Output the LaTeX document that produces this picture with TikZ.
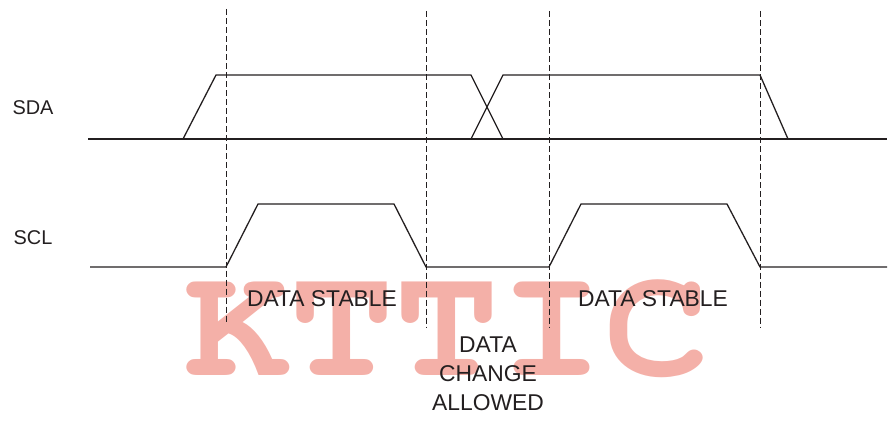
\documentclass[tikz,border=0pt]{standalone}
\usepackage{fontspec}
\setmainfont{Liberation Sans}
\definecolor{ink}{RGB}{35,31,32}
\definecolor{stamp}{RGB}{244,176,168}
\newcommand\markfont{\fontencoding{T1}\fontfamily{pcr}\fontseries{b}\selectfont}
\tikzset{
  wave/.style={draw=ink,line width=1.1pt,line join=miter},
  guide/.style={draw=ink,line width=0.8pt,dash pattern=on 5.1pt off 2.6pt},
  lbl/.style={text=ink,font=\fontsize{17}{24.6}\selectfont,inner sep=0pt,align=center},
  phase/.style={text=ink,font=\fontsize{19.5}{24.6}\selectfont,inner sep=0pt,align=center},
  stampbox/.style={text=stamp,font={\fontsize{137}{137}\markfont},anchor=base,inner sep=0pt,xscale=1.09}
}

\begin{document}
\begin{tikzpicture}[x=0.03cm,y=-0.03cm]
        \useasboundingbox (0,0) rectangle (891,423);
        % watermark
        \node[stampbox] (mark) at (447,375) {KTTIC};

        % signal names
        \node[lbl] (sda) at (33,108) {SDA};
        \node[lbl] (scl) at (33,238) {SCL};

        % dashed guides
        \coordinate (g1t) at (226,9);   \coordinate (g1b) at (226,324);
        \coordinate (g2t) at (426,11);  \coordinate (g2b) at (426,327);
        \coordinate (g3t) at (549,11);  \coordinate (g3b) at (549,327);
        \coordinate (g4t) at (760,11);  \coordinate (g4b) at (760,327);
        \draw[guide] (g1t) -- (g1b);
        \draw[guide] (g2t) -- (g2b);
        \draw[guide] (g3t) -- (g3b);
        \draw[guide] (g4t) -- (g4b);

        % SDA
        \coordinate (a0) at (88,139);
        \coordinate (a9) at (887,139);
        \draw[wave] (a0) -- (a9);
        \draw[wave] (183,139) -- (216,75) -- (471,75) -- (503,139);
        \draw[wave] (471,139) -- (503,75) -- (760,75) -- (788,139);

        % SCL
        \coordinate (c0) at (90,267);
        \coordinate (c9) at (887,267);
        \draw[wave] (c0) -- (226,267) -- (258,204) -- (394,204) -- (426,267)
                -- (549,267) -- (581,204) -- (727,204) -- (760,267) -- (c9);

        % phases
        \node[phase] (st1) at (322,299) {DATA STABLE};
        \node[phase] (st2) at (653,299) {DATA STABLE};
        \node[phase] (chg) at (488,374) {DATA\\CHANGE\\ALLOWED};
        \end{tikzpicture}
\end{document}
